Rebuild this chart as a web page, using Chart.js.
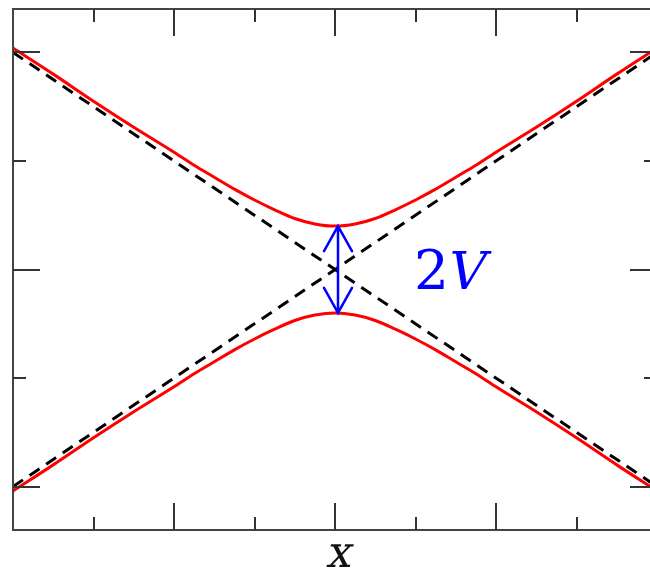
<!DOCTYPE html>
<html>
<head>
<meta charset="utf-8">
<title>Avoided crossing</title>
<script src="https://cdn.jsdelivr.net/npm/chart.js@4/dist/chart.umd.min.js"></script>
<style>
  html, body { margin:0; padding:0; background:#fff; overflow:hidden; }
  #wrap { position:absolute; left:0; top:0; width:662px; height:569px; }
</style>
</head>
<body>
<div id="wrap"><canvas id="chart" width="662" height="569"></canvas></div>
<script>
// ===== Data =====
const xs     = [-4, -3.5, -3, -2.5, -2, -1.75, -1.5, -1.25, -1, -0.75, -0.5, -0.25, 0, 0.25, 0.5, 0.75, 1, 1.25, 1.5, 1.75, 2, 2.5, 3, 3.5, 4];
const upperE = [2.04, 1.80, 1.55, 1.31, 1.08, 0.96, 0.85, 0.74, 0.64, 0.55, 0.47, 0.42, 0.40, 0.42, 0.47, 0.55, 0.64, 0.74, 0.85, 0.96, 1.08, 1.31, 1.55, 1.80, 2.04];
const lowerE = [-2.04, -1.80, -1.55, -1.31, -1.08, -0.96, -0.85, -0.74, -0.64, -0.55, -0.47, -0.42, -0.40, -0.42, -0.47, -0.55, -0.64, -0.74, -0.85, -0.96, -1.08, -1.31, -1.55, -1.80, -2.04];

// uncoupled (diabatic) levels, end points only
const diabX  = [-4, 4];
const diabA  = [2, -2];
const diabB  = [-2, 2];

// gap marker
const gapX   = 0;
const gapEnds = [0.40, -0.40];
const gapLabelPos = [0.98, -0.18];

// axes
const xRange = [-4, 4];
const yRange = [-2.4, 2.4];
const xTicks = [-3, -2, -1, 0, 1, 2, 3];
const yTicks = [-2, -1, 0, 1, 2];
const majorTicks = [-2, 0, 2];

const SERIF = '"DejaVu Serif", serif';
const pts = (xv, yv) => xv.map((x, i) => ({ x, y: yv[i] }));

// upright serif face sheared to read as math italic
function slanted(ctx, text, x, y) {
  ctx.save();
  ctx.translate(x, y);
  ctx.transform(1, 0, -0.22, 1, 0, 0);
  ctx.fillText(text, 0, 0);
  ctx.restore();
}

// ===== Frame + inward ticks + labels =====
const framePlugin = {
  id: 'frame',
  afterDraw(chart) {
    const { ctx, chartArea: a, scales } = chart;
    const sx = scales.x, sy = scales.y;
    ctx.save();
    ctx.strokeStyle = '#444';
    ctx.lineWidth = 2;
    ctx.strokeRect(a.left, a.top, a.right - a.left, a.bottom - a.top);

    ctx.strokeStyle = '#333';
    xTicks.forEach(v => {
      const px = Math.round(sx.getPixelForValue(v));
      const len = majorTicks.includes(v) ? 27 : 13;
      ctx.beginPath();
      ctx.moveTo(px, a.top); ctx.lineTo(px, a.top + len);
      ctx.moveTo(px, a.bottom); ctx.lineTo(px, a.bottom - len);
      ctx.stroke();
    });
    yTicks.forEach(v => {
      const py = Math.round(sy.getPixelForValue(v));
      const len = majorTicks.includes(v) ? 27 : 13;
      ctx.beginPath();
      ctx.moveTo(a.left, py); ctx.lineTo(a.left + len, py);
      ctx.moveTo(a.right, py); ctx.lineTo(a.right - len, py);
      ctx.stroke();
    });

    // double-headed arrow across the gap
    const ax = sx.getPixelForValue(gapX) + 3;
    const y1 = sy.getPixelForValue(gapEnds[0]);
    const y2 = sy.getPixelForValue(gapEnds[1]);
    ctx.strokeStyle = '#0000ff';
    ctx.lineWidth = 2.5;
    ctx.lineCap = 'round';
    ctx.beginPath();
    ctx.moveTo(ax, y1); ctx.lineTo(ax, y2);
    ctx.moveTo(ax - 14, y1 + 25); ctx.lineTo(ax, y1); ctx.lineTo(ax + 14, y1 + 25);
    ctx.moveTo(ax - 14, y2 - 25); ctx.lineTo(ax, y2); ctx.lineTo(ax + 14, y2 - 25);
    ctx.stroke();

    // "2V" label: upright digit, slanted V
    ctx.fillStyle = '#0000ff';
    ctx.textBaseline = 'alphabetic';
    ctx.textAlign = 'left';
    let tx = sx.getPixelForValue(gapLabelPos[0]);
    const ty = sy.getPixelForValue(gapLabelPos[1]);
    ctx.font = '55px ' + SERIF;
    ctx.fillText('2', tx, ty);
    tx += ctx.measureText('2').width - 4;
    ctx.font = '52px ' + SERIF;
    slanted(ctx, 'V', tx, ty);

    // axis label
    ctx.fillStyle = '#111';
    ctx.textAlign = 'center';
    ctx.font = '44px ' + SERIF;
    slanted(ctx, 'x', sx.getPixelForValue(0) + 3, 567);
    ctx.restore();
  }
};

// ===== Chart =====
const ctx = document.getElementById('chart').getContext('2d');
new Chart(ctx, {
  type: 'line',
  data: {
    datasets: [
      { data: pts(diabX, diabA), borderColor: '#000', borderWidth: 3, borderDash: [12, 8], pointRadius: 0, tension: 0 },
      { data: pts(diabX, diabB), borderColor: '#000', borderWidth: 3, borderDash: [12, 8], pointRadius: 0, tension: 0 },
      { data: pts(xs, upperE), borderColor: '#ff0000', borderWidth: 3, pointRadius: 0, cubicInterpolationMode: 'monotone' },
      { data: pts(xs, lowerE), borderColor: '#ff0000', borderWidth: 3, pointRadius: 0, cubicInterpolationMode: 'monotone' }
    ]
  },
  options: {
    responsive: false,
    animation: false,
    devicePixelRatio: 1,
    layout: { padding: { left: 13, top: 9, right: 5, bottom: 39 } },
    plugins: { legend: { display: false }, tooltip: { enabled: false } },
    scales: {
      x: { type: 'linear', min: xRange[0], max: xRange[1], display: false },
      y: { type: 'linear', min: yRange[0], max: yRange[1], display: false }
    }
  },
  plugins: [framePlugin]
});
</script>
</body>
</html>
